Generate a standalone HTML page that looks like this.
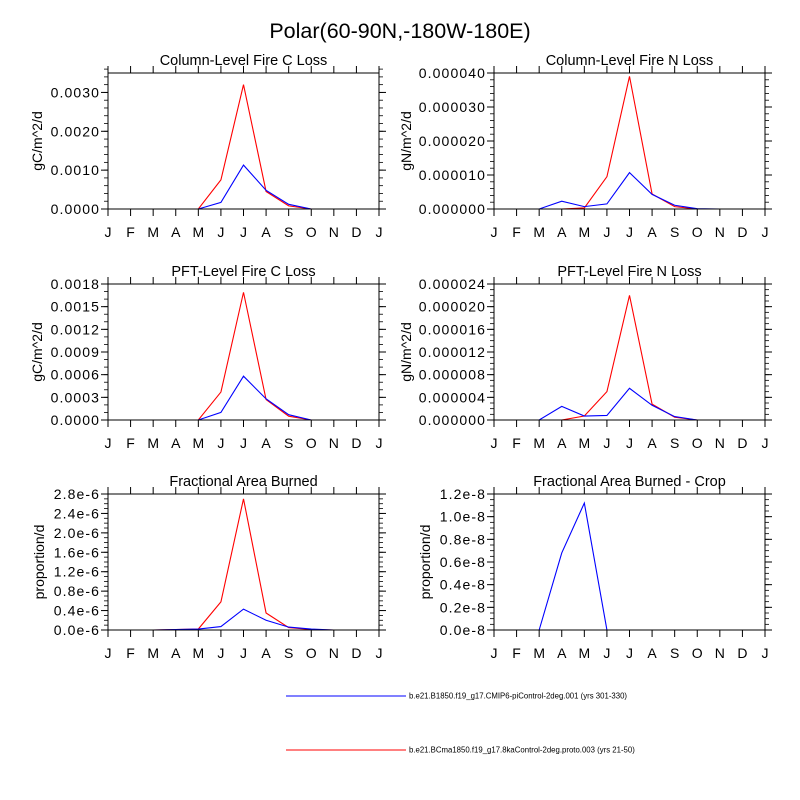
<!DOCTYPE html>
<html><head><meta charset="utf-8"><style>
body{margin:0;background:#fff;}
svg{display:block;font-family:"Liberation Sans",sans-serif;}
</style></head><body>
<svg id="c" width="800" height="800" viewBox="0 0 800 800">
<text x="400" y="38" font-size="21.5" text-anchor="middle">Polar(60-90N,-180W-180E)</text>
<g>
<line x1="286" y1="696" x2="406" y2="696" stroke="#00f" stroke-width="1"/>
<text x="409" y="698.5" font-size="7.8">b.e21.B1850.f19_g17.CMIP6-piControl-2deg.001 (yrs 301-330)</text>
<line x1="286" y1="750" x2="406" y2="750" stroke="#f00" stroke-width="1"/>
<text x="409" y="752.5" font-size="7.8">b.e21.BCma1850.f19_g17.8kaControl-2deg.proto.003 (yrs 21-50)</text>
</g>
</svg>
<script>
const months = ["J","F","M","A","M","J","J","A","S","O","N","D","J"];
const colCBlue = [0,0,0,0,0,0.00017,0.00113,0.00048,0.00012,0,0,0,0];
const colCRed  = [0,0,0,0,0,0.00075,0.0032,0.00045,0.00008,0,0,0,0];
const colNBlue = [0,0,0,0.0000023,0.0000007,0.0000015,0.0000107,0.0000043,0.0000011,0.0000001,0,0,0];
const colNRed  = [0,0,0,0,0.0000003,0.0000095,0.000039,0.0000044,0.0000007,0,0,0,0];
const pftCBlue = [0,0,0,0,0,0.0001,0.00058,0.00028,0.00007,0,0,0,0];
const pftCRed  = [0,0,0,0,0,0.00037,0.00169,0.00027,0.00005,0,0,0,0];
const pftNBlue = [0,0,0,0.0000024,0.0000007,0.0000008,0.0000056,0.0000026,0.0000006,0,0,0,0];
const pftNRed  = [0,0,0,0,0.0000007,0.000005,0.000022,0.0000028,0.0000005,0,0,0,0];
const fabBlue  = [0,0,0,0.01e-6,0.02e-6,0.07e-6,0.43e-6,0.2e-6,0.06e-6,0.02e-6,0,0,0];
const fabRed   = [0,0,0,0.01e-6,0.02e-6,0.58e-6,2.7e-6,0.35e-6,0.05e-6,0.01e-6,0,0,0];
const cropBlue = [0,0,0,0.68e-8,1.12e-8,0,0,0,0,0,0,0,0];
const colCTicks = ["0.0000","0.0010","0.0020","0.0030"];
const colNTicks = ["0.000000","0.000010","0.000020","0.000030","0.000040"];
const pftCTicks = ["0.0000","0.0003","0.0006","0.0009","0.0012","0.0015","0.0018"];
const pftNTicks = ["0.000000","0.000004","0.000008","0.000012","0.000016","0.000020","0.000024"];
const fabTicks  = ["0.0e-6","0.4e-6","0.8e-6","1.2e-6","1.6e-6","2.0e-6","2.4e-6","2.8e-6"];
const cropTicks = ["0.0e-8","0.2e-8","0.4e-8","0.6e-8","0.8e-8","1.0e-8","1.2e-8"];

const NS="http://www.w3.org/2000/svg";
const svg=document.getElementById('c');
function mk(tag,attrs,parent){const e=document.createElementNS(NS,tag);for(const k in attrs)e.setAttribute(k,attrs[k]);(parent||svg).appendChild(e);return e;}

const panels=[
 {name:"column-c",title:"Column-Level Fire C Loss",ylab:"gC/m^2/d",yt:71,x0:108,y0:73,max:0.0035,step:0.001,minor:0.0002,ticks:colCTicks,blue:colCBlue,red:colCRed},
 {name:"column-n",title:"Column-Level Fire N Loss",ylab:"gN/m^2/d",yt:88,x0:494,y0:73,max:0.00004,step:0.00001,minor:0.000002,ticks:colNTicks,blue:colNBlue,red:colNRed},
 {name:"pft-c",title:"PFT-Level Fire C Loss",ylab:"gC/m^2/d",yt:71,x0:108,y0:284,max:0.0018,step:0.0003,minor:0.0001,ticks:pftCTicks,blue:pftCBlue,red:pftCRed},
 {name:"pft-n",title:"PFT-Level Fire N Loss",ylab:"gN/m^2/d",yt:88,x0:494,y0:284,max:0.000024,step:0.000004,minor:0.000001,ticks:pftNTicks,blue:pftNBlue,red:pftNRed},
 {name:"fab",title:"Fractional Area Burned",ylab:"proportion/d",yt:69,x0:108,y0:494,max:2.8e-6,step:0.4e-6,minor:0.1e-6,ticks:fabTicks,blue:fabBlue,red:fabRed},
 {name:"fab-crop",title:"Fractional Area Burned - Crop",ylab:"proportion/d",yt:69,x0:494,y0:494,max:1.2e-8,step:0.2e-8,minor:0.05e-8,ticks:cropTicks,blue:cropBlue,red:null}
];
const W=271,H=136;
panels.forEach(p=>{
 const g=mk('g',{});
 
 
 const xs=i=>p.x0+i*W/12;
 const ys=v=>p.y0+H-v/p.max*H;
 const t=mk('text',{x:p.x0+W/2,y:p.y0-8,'font-size':14.5,'text-anchor':'middle'},g);t.textContent=p.title;
 
 
 const yl=mk('text',{x:0,y:0,'font-size':14,'text-anchor':'middle',transform:`translate(${p.x0-p.yt+5},${p.y0+H/2}) rotate(-90)`},g);yl.textContent=p.ylab;
 
 
 const nm=Math.round(p.max/p.minor);
 for(let k=0;k<=nm;k++){const y=ys(k*p.minor);
  mk('line',{x1:p.x0-4,x2:p.x0,y1:y,y2:y,stroke:'#000','stroke-width':0.8},g);
  mk('line',{x1:p.x0+W,x2:p.x0+W+4,y1:y,y2:y,stroke:'#000','stroke-width':0.8},g);}
 p.ticks.forEach((lab,k)=>{const y=ys(k*p.step);
  mk('line',{x1:p.x0-7,x2:p.x0,y1:y,y2:y,stroke:'#000','stroke-width':1},g);
  mk('line',{x1:p.x0+W,x2:p.x0+W+7,y1:y,y2:y,stroke:'#000','stroke-width':1},g);
  const tl=mk('text',{x:p.x0-8,y:y+5,'font-size':14,'letter-spacing':1.1,'text-anchor':'end'},g);tl.textContent=lab;
  
  });
 months.forEach((m,i)=>{const x=xs(i);
  mk('line',{x1:x,x2:x,y1:p.y0+H,y2:p.y0+H+7,stroke:'#000','stroke-width':1},g);
  mk('line',{x1:x,x2:x,y1:p.y0-7,y2:p.y0,stroke:'#000','stroke-width':1},g);
  const tl=mk('text',{x:x,y:p.y0+H+28,'font-size':14,'text-anchor':'middle'},g);tl.textContent=m;
  
  });
 const series=[[p.red,'#f00','red'],[p.blue,'#00f','blue']];
 series.forEach(([d,c,n])=>{if(!d)return;
  const pts=d.map((v,i)=>xs(i).toFixed(2)+','+ys(v).toFixed(2)).join(' ');
  const pl=mk('polyline',{points:pts,fill:'none',stroke:c,'stroke-width':1.1},g);
  
  });
 const fr=mk('rect',{x:p.x0,y:p.y0,width:W,height:H,fill:'none',stroke:'#000','stroke-width':1},g);
 
 
});
</script>
</body></html>
